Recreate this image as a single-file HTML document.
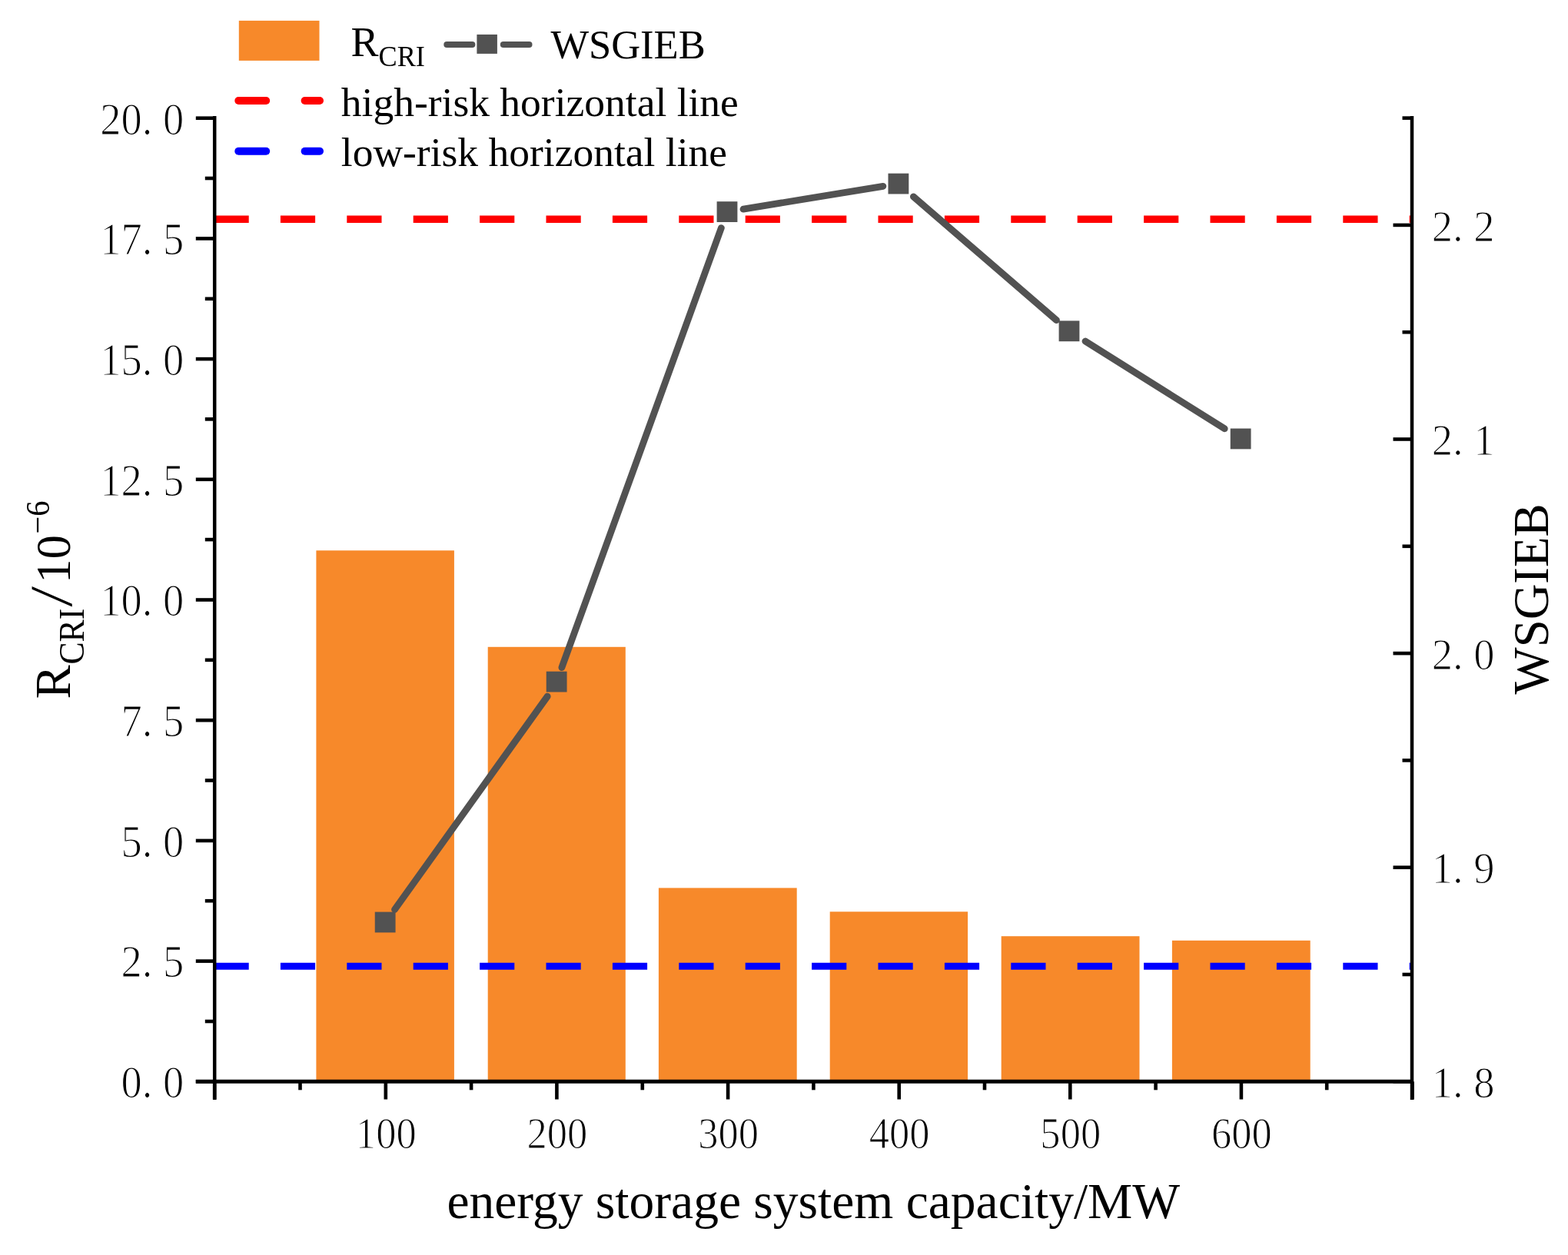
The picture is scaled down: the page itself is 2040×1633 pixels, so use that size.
<!DOCTYPE html>
<html><head><meta charset="utf-8"><title>chart</title>
<style>html,body{margin:0;padding:0;background:#fff;overflow:hidden;} svg{display:block;}</style></head>
<body>
<svg width="2040" height="1633" viewBox="0 0 2040 1633">
<rect width="2040" height="1633" fill="#fff"/>
<rect x="411.4" y="716.3" width="179.5" height="691.0" fill="#F7892A"/>
<rect x="634.7" y="841.8" width="179.1" height="565.5" fill="#F7892A"/>
<rect x="856.9" y="1155.4" width="179.8" height="251.9" fill="#F7892A"/>
<rect x="1079.7" y="1186.3" width="179.4" height="221.0" fill="#F7892A"/>
<rect x="1302.7" y="1218.2" width="179.8" height="189.1" fill="#F7892A"/>
<rect x="1524.9" y="1223.8" width="179.8" height="183.5" fill="#F7892A"/>
<line x1="278.5" y1="285.2" x2="1836" y2="285.2" stroke="#FF0000" stroke-width="9.6" stroke-dasharray="45.2 41.2"/>
<line x1="278.5" y1="1257.3" x2="1836" y2="1257.3" stroke="#0000FF" stroke-width="9.0" stroke-dasharray="45.2 41.2"/>
<line x1="513.5" y1="1183.5" x2="712.2" y2="906.1" stroke="#525252" stroke-width="8.8" stroke-linecap="round"/>
<line x1="730.9" y1="868.6" x2="938.4" y2="296.6" stroke="#525252" stroke-width="8.8" stroke-linecap="round"/>
<line x1="967.0" y1="272.2" x2="1148.9" y2="242.3" stroke="#525252" stroke-width="8.8" stroke-linecap="round"/>
<line x1="1188.4" y1="255.9" x2="1374.5" y2="416.6" stroke="#525252" stroke-width="8.8" stroke-linecap="round"/>
<line x1="1412.0" y1="444.0" x2="1593.2" y2="557.8" stroke="#525252" stroke-width="8.8" stroke-linecap="round"/>
<rect x="487.75" y="1186.60" width="26.8" height="26.8" fill="#525252"/>
<rect x="710.75" y="873.70" width="26.8" height="26.8" fill="#525252"/>
<rect x="932.60" y="262.20" width="26.8" height="26.8" fill="#525252"/>
<rect x="1155.50" y="225.65" width="26.8" height="26.8" fill="#525252"/>
<rect x="1377.60" y="417.40" width="26.8" height="26.8" fill="#525252"/>
<rect x="1600.75" y="557.55" width="26.8" height="26.8" fill="#525252"/>
<g stroke="#000" stroke-width="4.6" fill="none">
<line x1="279.2" y1="151" x2="279.2" y2="1431" stroke-width="4.5"/>
<line x1="1837" y1="151" x2="1837" y2="1431" stroke-width="4.5"/>
<line x1="254.8" y1="1407.3" x2="1839" y2="1407.3" stroke-width="4.9"/>
<line x1="254.8" y1="1407.3" x2="280" y2="1407.3"/>
<line x1="254.8" y1="1250.6" x2="280" y2="1250.6"/>
<line x1="254.8" y1="1093.9" x2="280" y2="1093.9"/>
<line x1="254.8" y1="937.2" x2="280" y2="937.2"/>
<line x1="254.8" y1="780.5" x2="280" y2="780.5"/>
<line x1="254.8" y1="623.8" x2="280" y2="623.8"/>
<line x1="254.8" y1="467.1" x2="280" y2="467.1"/>
<line x1="254.8" y1="310.4" x2="280" y2="310.4"/>
<line x1="254.8" y1="153.7" x2="280" y2="153.7"/>
<line x1="266.8" y1="1329.0" x2="280" y2="1329.0"/>
<line x1="266.8" y1="1172.2" x2="280" y2="1172.2"/>
<line x1="266.8" y1="1015.5" x2="280" y2="1015.5"/>
<line x1="266.8" y1="858.8" x2="280" y2="858.8"/>
<line x1="266.8" y1="702.1" x2="280" y2="702.1"/>
<line x1="266.8" y1="545.4" x2="280" y2="545.4"/>
<line x1="266.8" y1="388.8" x2="280" y2="388.8"/>
<line x1="266.8" y1="232.0" x2="280" y2="232.0"/>
<line x1="1812.5" y1="1407.3" x2="1837" y2="1407.3"/>
<line x1="1812.5" y1="1128.7" x2="1837" y2="1128.7"/>
<line x1="1812.5" y1="850.1" x2="1837" y2="850.1"/>
<line x1="1812.5" y1="571.5" x2="1837" y2="571.5"/>
<line x1="1812.5" y1="292.9" x2="1837" y2="292.9"/>
<line x1="1824.5" y1="1268.0" x2="1837" y2="1268.0"/>
<line x1="1824.5" y1="989.4" x2="1837" y2="989.4"/>
<line x1="1824.5" y1="710.8" x2="1837" y2="710.8"/>
<line x1="1824.5" y1="432.2" x2="1837" y2="432.2"/>
<line x1="1824.5" y1="153.6" x2="1837" y2="153.6"/>
<line x1="279.2" y1="1407.3" x2="279.2" y2="1430.5"/>
<line x1="501.8" y1="1407.3" x2="501.8" y2="1430.5"/>
<line x1="724.4" y1="1407.3" x2="724.4" y2="1430.5"/>
<line x1="947.1" y1="1407.3" x2="947.1" y2="1430.5"/>
<line x1="1169.7" y1="1407.3" x2="1169.7" y2="1430.5"/>
<line x1="1392.3" y1="1407.3" x2="1392.3" y2="1430.5"/>
<line x1="1614.9" y1="1407.3" x2="1614.9" y2="1430.5"/>
<line x1="1837.5" y1="1407.3" x2="1837.5" y2="1430.5"/>
<line x1="390.5" y1="1407.3" x2="390.5" y2="1418.3"/>
<line x1="613.1" y1="1407.3" x2="613.1" y2="1418.3"/>
<line x1="835.8" y1="1407.3" x2="835.8" y2="1418.3"/>
<line x1="1058.4" y1="1407.3" x2="1058.4" y2="1418.3"/>
<line x1="1281.0" y1="1407.3" x2="1281.0" y2="1418.3"/>
<line x1="1503.6" y1="1407.3" x2="1503.6" y2="1418.3"/>
<line x1="1726.2" y1="1407.3" x2="1726.2" y2="1418.3"/>
</g>
<g font-family="Liberation Serif, serif" font-size="54.5" fill="#000" stroke="#fff" stroke-width="1.1" text-anchor="end">
<text transform="translate(239.3,1428.1) scale(1,1.075)" xml:space="preserve">0. 0</text>
<text transform="translate(239.3,1271.4) scale(1,1.075)" xml:space="preserve">2. 5</text>
<text transform="translate(239.3,1114.7) scale(1,1.075)" xml:space="preserve">5. 0</text>
<text transform="translate(239.3,958.0) scale(1,1.075)" xml:space="preserve">7. 5</text>
<text transform="translate(239.3,801.3) scale(1,1.075)" xml:space="preserve">10. 0</text>
<text transform="translate(239.3,644.6) scale(1,1.075)" xml:space="preserve">12. 5</text>
<text transform="translate(239.3,487.9) scale(1,1.075)" xml:space="preserve">15. 0</text>
<text transform="translate(239.3,331.2) scale(1,1.075)" xml:space="preserve">17. 5</text>
<text transform="translate(239.3,174.5) scale(1,1.075)" xml:space="preserve">20. 0</text>
</g>
<g font-family="Liberation Serif, serif" font-size="54.5" fill="#000" stroke="#fff" stroke-width="1.1">
<text transform="translate(1862.8,1427.9) scale(1,1.06)" xml:space="preserve">1. 8</text>
<text transform="translate(1862.8,1149.3) scale(1,1.06)" xml:space="preserve">1. 9</text>
<text transform="translate(1862.8,870.7) scale(1,1.06)" xml:space="preserve">2. 0</text>
<text transform="translate(1862.8,592.1) scale(1,1.06)" xml:space="preserve">2. 1</text>
<text transform="translate(1862.8,313.5) scale(1,1.06)" xml:space="preserve">2. 2</text>
</g>
<g font-family="Liberation Serif, serif" font-size="54.5" fill="#000" stroke="#fff" stroke-width="1.1" text-anchor="middle">
<text transform="translate(502.3,1493.8) scale(0.965,1.055)">100</text>
<text transform="translate(724.9,1493.8) scale(0.965,1.055)">200</text>
<text transform="translate(947.6,1493.8) scale(0.965,1.055)">300</text>
<text transform="translate(1170.2,1493.8) scale(0.965,1.055)">400</text>
<text transform="translate(1392.8,1493.8) scale(0.965,1.055)">500</text>
<text transform="translate(1615.4,1493.8) scale(0.965,1.055)">600</text>
</g>
<text x="1058.3" y="1584.7" font-family="Liberation Serif, serif" font-size="65.5" text-anchor="middle">energy storage system capacity/MW</text>
<text transform="translate(2014,779.4) rotate(-90)" font-family="Liberation Serif, serif" font-size="66" text-anchor="middle" textLength="248" lengthAdjust="spacingAndGlyphs">WSGIEB</text>
<text transform="translate(90.6,909.4) rotate(-90)" font-family="Liberation Serif, serif" fill="#000" font-size="66">R</text>
<text transform="translate(109,864.6) rotate(-90)" font-family="Liberation Serif, serif" fill="#000" font-size="47" textLength="73" lengthAdjust="spacingAndGlyphs">CRI</text>
<text transform="translate(93.2,789.5) rotate(-90) skewX(-5.5)" font-family="Liberation Serif, serif" fill="#000" font-size="78">/</text>
<text transform="translate(90.6,759) rotate(-90)" font-family="Liberation Serif, serif" fill="#000" font-size="63">10</text>
<text transform="translate(63.8,694.5) rotate(-90)" font-family="Liberation Serif, serif" fill="#000" font-size="45" textLength="43" lengthAdjust="spacingAndGlyphs">−6</text>
<rect x="310.8" y="26.9" width="104.7" height="52" fill="#F7892A"/>
<text x="456.6" y="72.7" font-family="Liberation Serif, serif" fill="#000" font-size="54">R</text>
<text x="492.5" y="86.4" font-family="Liberation Serif, serif" fill="#000" font-size="38" textLength="60.4" lengthAdjust="spacingAndGlyphs">CRI</text>
<line x1="581.3" y1="58" x2="614.4" y2="58" stroke="#525252" stroke-width="8" stroke-linecap="round"/>
<line x1="654.8" y1="58" x2="688.5" y2="58" stroke="#525252" stroke-width="8" stroke-linecap="round"/>
<rect x="620.4" y="44.9" width="26.5" height="25" fill="#525252"/>
<text x="716.4" y="75.7" font-family="Liberation Serif, serif" fill="#000" font-size="53" textLength="201.3" lengthAdjust="spacingAndGlyphs">WSGIEB</text>
<line x1="310.3" y1="131" x2="346.2" y2="131" stroke="#FF0000" stroke-width="10" stroke-linecap="round"/>
<line x1="396.6" y1="131" x2="416" y2="131" stroke="#FF0000" stroke-width="10" stroke-linecap="round"/>
<line x1="310.3" y1="196.7" x2="346.2" y2="196.7" stroke="#0000FF" stroke-width="10" stroke-linecap="round"/>
<line x1="396.6" y1="196.7" x2="416" y2="196.7" stroke="#0000FF" stroke-width="10" stroke-linecap="round"/>
<text x="443.8" y="150.5" font-family="Liberation Serif, serif" fill="#000" font-size="53.5">high-risk horizontal line</text>
<text x="443.8" y="216.1" font-family="Liberation Serif, serif" fill="#000" font-size="53.5">low-risk horizontal line</text>
</svg>
</body></html>
